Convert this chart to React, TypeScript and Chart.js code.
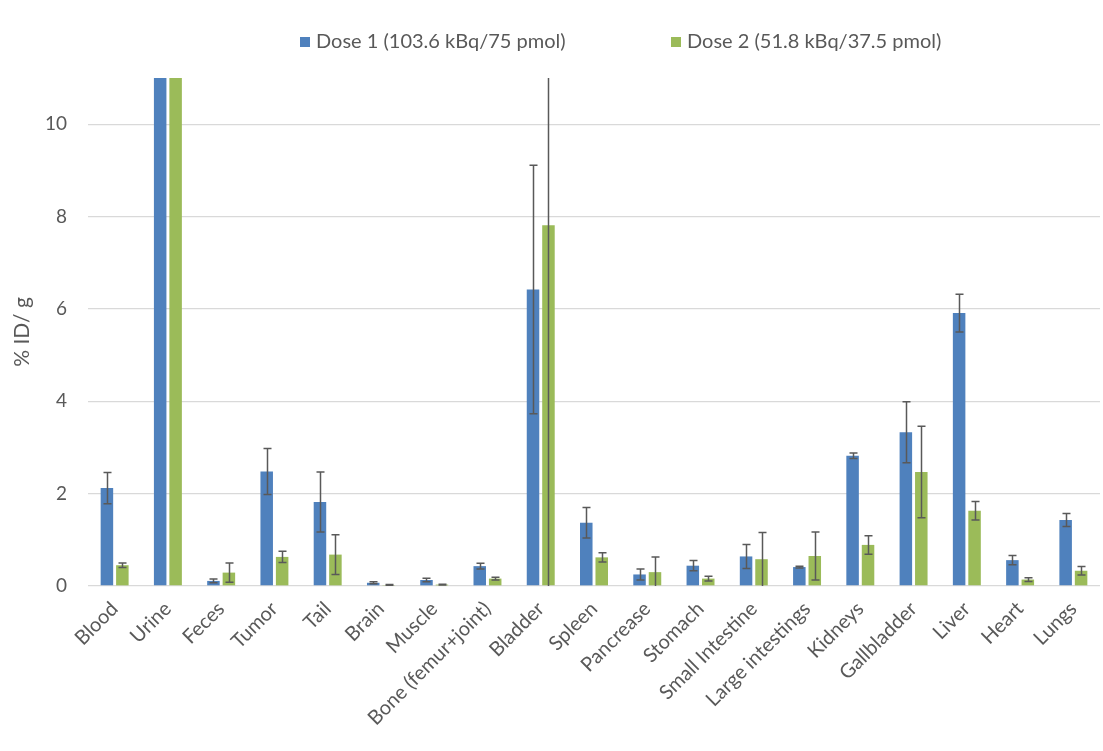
import React, { useEffect, useRef } from 'react';
import { Chart, registerables } from 'chart.js';

Chart.register(...registerables);

const categories = [
  'Blood', 'Urine', 'Feces', 'Tumor', 'Tail', 'Brain', 'Muscle', 'Bone (femur+joint)',
  'Bladder', 'Spleen', 'Pancrease', 'Stomach', 'Small Intestine', 'Large intestings',
  'Kidneys', 'Gallbladder', 'Liver', 'Heart', 'Lungs',
];
const dose1Label = 'Dose 1 (103.6 kBq/75 pmol)';
const dose2Label = 'Dose 2 (51.8 kBq/37.5 pmol)';
const dose1 = [2.12, 30, 0.11, 2.48, 1.82, 0.07, 0.13, 0.43, 6.42, 1.37, 0.25, 0.44, 0.64, 0.41, 2.82, 3.33, 5.91, 0.56, 1.43];
const dose1Err = [0.34, 0, 0.04, 0.5, 0.65, 0.02, 0.04, 0.06, 2.69, 0.33, 0.12, 0.11, 0.26, 0.02, 0.06, 0.66, 0.41, 0.1, 0.14];
const dose2 = [0.45, 30, 0.29, 0.63, 0.68, 0.02, 0.03, 0.16, 7.81, 0.62, 0.3, 0.16, 0.58, 0.65, 0.89, 2.47, 1.63, 0.14, 0.33];
const dose2Err = [0.05, 0, 0.21, 0.12, 0.43, 0.01, 0.01, 0.03, 7.9, 0.1, 0.33, 0.05, 0.58, 0.52, 0.2, 0.99, 0.2, 0.04, 0.09];
const yTickValues = [0, 2, 4, 6, 8, 10];
const yTitle = '% ID/ g';

const BLUE = '#4F81BD';
const GREEN = '#9BBB59';
const TEXT = '#595959';
const FONT = 'Lato';

const errorBarsPlugin = {
  id: 'errorBars',
  afterDatasetsDraw(chart: any) {
    const { ctx, chartArea, scales } = chart;
    const y = scales.y;
    ctx.save();
    ctx.beginPath();
    ctx.rect(chartArea.left, chartArea.top, chartArea.right - chartArea.left, chartArea.bottom - chartArea.top);
    ctx.clip();
    ctx.strokeStyle = '#595959';
    ctx.lineWidth = 1.5;
    chart.data.datasets.forEach((ds: any, di: number) => {
      const meta = chart.getDatasetMeta(di);
      const errs: number[] = ds.errors || [];
      meta.data.forEach((bar: any, i: number) => {
        const e = errs[i];
        if (!e) return;
        const v = ds.data[i];
        const lo = v - e;
        const yTop = y.getPixelForValue(v + e);
        const yBot = y.getPixelForValue(Math.max(0, lo));
        const x = Math.round(bar.x) + 0.5;
        const cap = 4;
        ctx.beginPath();
        ctx.moveTo(x, yTop);
        ctx.lineTo(x, yBot);
        ctx.moveTo(x - cap, yTop);
        ctx.lineTo(x + cap, yTop);
        if (lo > 0) {
          ctx.moveTo(x - cap, yBot);
          ctx.lineTo(x + cap, yBot);
        }
        ctx.stroke();
      });
    });
    ctx.restore();
  },
};

const legendPlugin = {
  id: 'customLegend',
  afterDraw(chart: any) {
    const { ctx } = chart;
    const positions = [300, 671];
    ctx.save();
    ctx.font = `20px ${FONT}`;
    ctx.textBaseline = 'middle';
    ctx.textAlign = 'left';
    chart.data.datasets.forEach((ds: any, i: number) => {
      const x = positions[i];
      const cy = 42;
      ctx.fillStyle = ds.backgroundColor;
      ctx.fillRect(x, cy - 5, 10, 10);
      ctx.fillStyle = TEXT;
      ctx.fillText(ds.label, x + 16, cy);
    });
    ctx.restore();
  },
};

export default function App() {
  const ref = useRef<HTMLCanvasElement | null>(null);
  useEffect(() => {
    if (!ref.current) return;
    const chart = new Chart(ref.current, {
      type: 'bar',
      data: {
        labels: categories,
        datasets: [
          { label: dose1Label, data: dose1, backgroundColor: BLUE, errors: dose1Err } as any,
          { label: dose2Label, data: dose2, backgroundColor: GREEN, errors: dose2Err } as any,
        ],
      },
      options: {
        responsive: false,
        animation: false,
        layout: { padding: { top: 78, left: 0, right: 3, bottom: 0 } },
        datasets: { bar: { categoryPercentage: 0.58, barPercentage: 0.81 } },
        plugins: {
          legend: { display: false },
          tooltip: { enabled: false },
        },
        scales: {
          x: {
            grid: { display: false },
            border: { display: false },
            ticks: {
              color: TEXT,
              font: { family: FONT, size: 20 },
              minRotation: 45,
              maxRotation: 45,
              padding: 3,
              autoSkip: false,
            },
            afterFit: (s: any) => { s.height = 165; },
          },
          y: {
            min: 0,
            max: 11,
            grid: { color: '#D9D9D9', lineWidth: 1.3, drawTicks: false },
            border: { display: false },
            afterBuildTicks: (s: any) => { s.ticks = yTickValues.map((v) => ({ value: v })); },
            ticks: {
              color: TEXT,
              font: { family: FONT, size: 19 },
              padding: 21,
            },
            title: {
              display: true,
              text: yTitle,
              color: TEXT,
              font: { family: FONT, size: 21 },
              padding: { top: 10, bottom: 0 },
            },
            afterFit: (s: any) => { s.width = 88; },
          },
        },
      },
      plugins: [errorBarsPlugin, legendPlugin],
    });
    return () => chart.destroy();
  }, []);
  return (
    <div style={{ position: 'absolute', left: 0, top: 0, width: 1103, height: 751 }}>
      <canvas ref={ref} width={1103} height={751} style={{ display: 'block' }} />
    </div>
  );
}
